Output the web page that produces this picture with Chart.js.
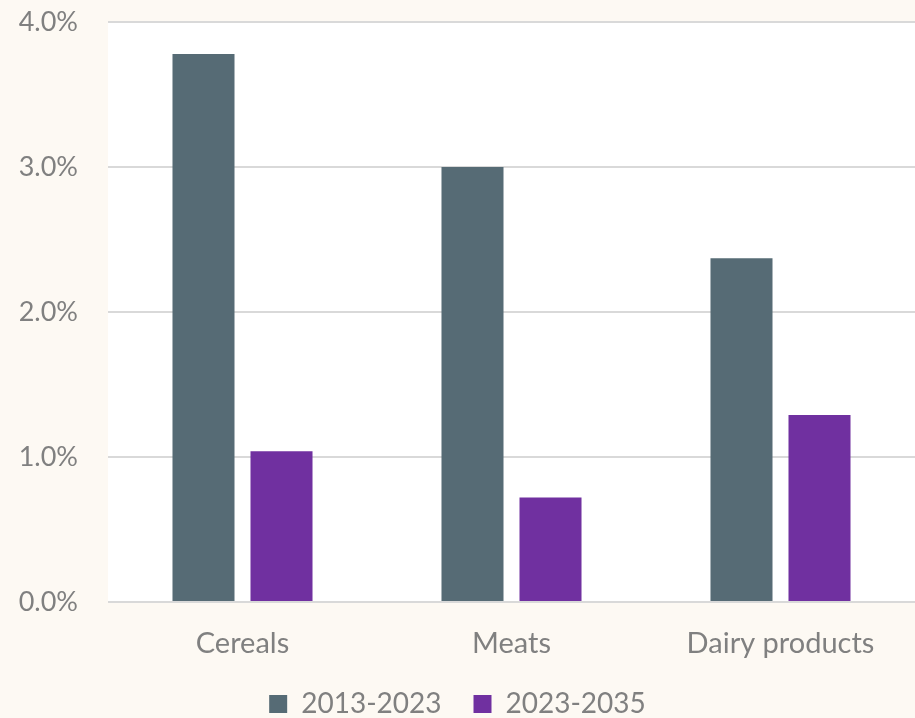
<!DOCTYPE html>
<html>
<head>
<meta charset="utf-8">
<script src="https://cdn.jsdelivr.net/npm/chart.js@4"></script>
<style>
  html, body { margin: 0; padding: 0; background: #fdf9f3; }
  #wrap { width: 915px; height: 718px; }
</style>
</head>
<body>
<div id="wrap"><canvas id="bar-chart" width="915" height="718"></canvas></div>
<script>
const categories = ["Cereals", "Meats", "Dairy products"];
const series_names = ["2013-2023", "2023-2035"];
const values_2013_2023 = [3.78, 3.00, 2.37];
const values_2023_2035 = [1.04, 0.72, 1.29];
const y_ticks = [0, 1, 2, 3, 4];

// white plot area on the cream page
const plotBg = {
    id: "plotBg",
    beforeDraw(chart) {
        const a = chart.chartArea;
        const c = chart.ctx;
        c.save();
        c.fillStyle = "#ffffff";
        c.fillRect(a.left, a.top, a.right - a.left, a.bottom - a.top);
        c.restore();
    }
};

var ctx = document.getElementById("bar-chart").getContext("2d");
var myChart = new Chart(ctx, {
    type: "bar",
    data: {
        labels: categories,
        datasets: [{
            label: series_names[0],
            backgroundColor: "#566b75",
            data: values_2013_2023
        }, {
            label: series_names[1],
            backgroundColor: "#7030a0",
            data: values_2023_2035
        }]
    },
    options: {
        responsive: false,
        animation: false,
        categoryPercentage: 0.58,
        barPercentage: 0.795,
        layout: { padding: { top: 22, right: 0, left: 0, bottom: -10 } },
        plugins: {
            legend: {
                position: "bottom",
                labels: {
                    color: "#808080",
                    font: { family: "Lato", size: 28 },
                    boxWidth: 18,
                    boxHeight: 18,
                    padding: 32
                }
            },
            tooltip: { enabled: false }
        },
        scales: {
            x: {
                grid: { display: false },
                border: { display: false },
                afterFit: function(scale) { scale.height = 56; },
                ticks: {
                    color: "#808080",
                    font: { family: "Lato", size: 29 },
                    padding: 16
                }
            },
            y: {
                min: 0,
                max: 4,
                afterBuildTicks: function(scale) {
                    scale.ticks = y_ticks.map(v => ({ value: v }));
                },
                afterFit: function(scale) {
                    scale.width = 108;
                    scale.paddingTop = 0;
                    scale.paddingBottom = 0;
                },
                grid: { color: "#d9d9d9", lineWidth: 2, drawTicks: false },
                border: { display: false },
                ticks: {
                    color: "#808080",
                    font: { family: "Lato", size: 27 },
                    padding: 30,
                    callback: function(v) { return v.toFixed(1) + "%"; }
                }
            }
        }
    },
    plugins: [plotBg]
});
</script>
</body>
</html>
